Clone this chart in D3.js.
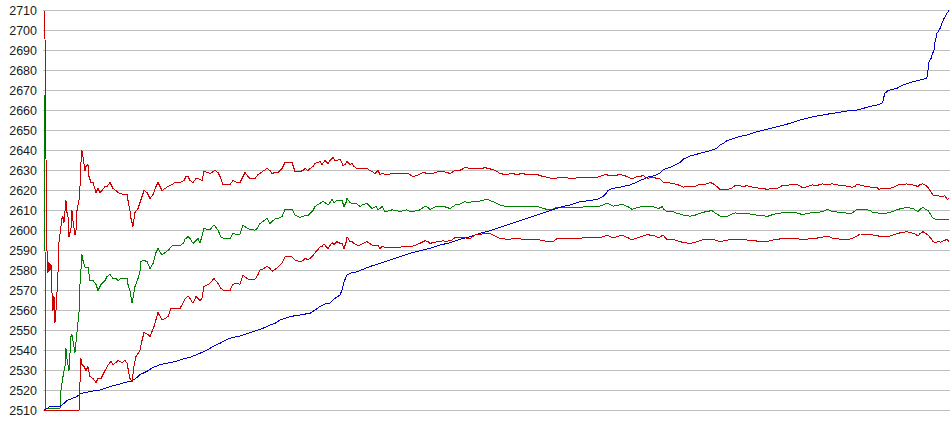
<!DOCTYPE html>
<html>
<head>
<meta charset="utf-8">
<script src="https://cdn.jsdelivr.net/npm/d3@7"></script>
<style>
  html, body { margin: 0; padding: 0; background: #fff; }
  svg { display: block; }
</style>
</head>
<body>
<svg id="chart" width="950" height="435"></svg>
<script>
// Tick labels (y axis)
const yTicks = [2510, 2520, 2530, 2540, 2550, 2560, 2570, 2580, 2590, 2600, 2610, 2620, 2630, 2640, 2650, 2660, 2670, 2680, 2690, 2700, 2710];

// Sample index range
const sampleRange = [0, 905];

// Upper band (red) [sample, value]
const upperBand = [[0,2710],[0.6,2696],[1,2696],[2,2636],[3,2590],[4,2579],[5,2584],[6,2580],[7,2583],[8,2569],[9,2560],[10,2567],[11,2554],[12,2560],[13,2569],[14,2579],[15,2594],[17,2602],[18,2606],[19,2607],[20,2604],[22,2615],[23,2609],[24,2607],[25,2597],[27,2601],[28,2610],[29,2605],[31,2598],[32,2600],[33,2610],[35,2615],[36,2622],[37,2634],[38,2640],[39,2637],[41,2630],[42,2632],[44,2633],[45,2627],[47,2624],[49,2624],[52,2619],[54,2621],[56,2619],[58,2620],[61,2622],[63,2622],[66,2624],[69,2621],[72,2620],[74,2619],[79,2618],[83,2618],[84,2615],[86,2610],[87,2606],[89,2602],[91,2609],[94,2611],[96,2614],[98,2617],[100,2620],[103,2619],[106,2616],[109,2618],[112,2622],[114,2624],[118,2620],[121,2621],[124,2622],[128,2623],[131,2624],[136,2624],[140,2625],[142,2627],[144,2627],[146,2625],[149,2624],[152,2626],[154,2626],[158,2625],[160,2629.5],[164,2629],[166,2628.5],[171,2630],[174,2629],[176,2627],[179,2623],[182,2623],[186,2623],[189,2625],[193,2624],[196,2624],[199,2627],[201,2629],[204,2627],[206,2626],[211,2626],[214,2628],[216,2628.5],[220,2630],[223,2631],[226,2630],[228,2628.5],[231,2629],[234,2629],[238,2631],[241,2634],[244,2634],[248,2634],[251,2629.5],[256,2629.5],[259,2630],[261,2631],[264,2630],[266,2631],[269,2632],[271,2633.6],[274,2634],[276,2634.5],[278,2633],[281,2635],[284,2633.5],[286,2635],[289,2636.6],[291,2635],[293,2635],[296,2635.7],[299,2632.5],[301,2633],[303,2634.5],[306,2633],[308,2633.5],[310,2632],[313,2631],[316,2631],[319,2631],[323,2631],[326,2630],[328,2629.5],[331,2628.5],[334,2630],[336,2628],[338,2628.5],[343,2627.7],[348,2628.5],[354,2628.5],[359,2628.5],[364,2628.5],[369,2627],[374,2627.7],[379,2629],[384,2628.5],[389,2628.5],[394,2629.5],[399,2629.5],[403,2629],[406,2628.5],[411,2630],[415,2630],[418,2630.5],[421,2631.6],[426,2631],[429,2631],[434,2631],[438,2631],[441,2631.5],[444,2631],[449,2630.5],[453,2629.5],[456,2628.5],[461,2628],[463,2628],[468,2628.5],[473,2628],[478,2628.5],[483,2628],[489,2628],[493,2628],[496,2627.5],[499,2627],[503,2626.7],[509,2625.8],[513,2626.3],[518,2626.3],[523,2626.3],[528,2626],[533,2626.3],[538,2626.3],[543,2626.7],[549,2626.3],[552,2626.5],[556,2627],[561,2628],[566,2627.5],[571,2627.5],[576,2628],[580,2627.5],[583,2627],[588,2625.8],[591,2626.5],[593,2627],[596,2627],[599,2627.5],[604,2625.8],[606,2626.5],[609,2626.7],[613,2626],[616,2625.8],[619,2624.2],[623,2624],[626,2623.7],[629,2623.5],[633,2623],[636,2622.5],[639,2621.7],[646,2622],[651,2622],[656,2623.2],[661,2623],[666,2624],[669,2623.5],[673,2622],[676,2620.6],[680,2620.6],[684,2620.6],[687,2621],[691,2622.4],[696,2622.4],[699,2622],[703,2622.4],[709,2621.6],[712,2621.5],[716,2621],[719,2621],[723,2620.6],[728,2621],[733,2621],[738,2622.4],[746,2622.8],[751,2622.8],[754,2622.8],[758,2621.6],[761,2621.5],[768,2622.8],[773,2622.5],[778,2623.3],[783,2623],[788,2623.3],[793,2622.8],[796,2622.5],[801,2622.4],[808,2621.6],[811,2622],[813,2623.3],[818,2622.4],[823,2622],[828,2621.6],[833,2621.5],[835,2620.6],[839,2621],[846,2621],[851,2622],[854,2622.8],[859,2623],[863,2623.3],[866,2622.8],[869,2622.8],[874,2622],[876,2623],[879,2623.3],[882,2622.5],[884,2621.6],[886,2620],[889,2617.75],[892,2617.3],[894,2617.3],[897,2617],[901,2617.3],[903,2615.6],[905,2616]];

// Middle line (green) [sample, value]
const middleLine = [[0,2669],[1,2590],[2,2511],[16,2511],[17,2520],[19,2527],[21,2532],[22,2541],[23,2536],[25,2530],[27,2547],[28,2548],[29,2545],[31,2539],[33,2549],[35,2559],[36,2573],[38,2588],[39,2585],[41,2581.6],[44,2581.6],[46,2575],[49,2575],[52,2573],[54,2570],[57,2573],[61,2575],[63,2577],[66,2578],[69,2576],[72,2576],[74,2575],[77,2576],[79,2576],[81,2576],[83,2576],[84,2573],[86,2569.6],[88,2564],[89,2566],[91,2572],[94,2576],[96,2579.6],[97,2584.6],[99,2585],[103,2584.6],[106,2581],[109,2583.5],[112,2589],[114,2591],[118,2587.7],[121,2589],[124,2590],[128,2592.3],[131,2592.5],[136,2592.3],[140,2594],[141,2595.6],[144,2597],[146,2596],[149,2593.6],[152,2595],[154,2596],[156,2593.6],[160,2601],[164,2600.5],[166,2600.5],[170,2602.7],[174,2600.3],[177,2596.6],[180,2596],[183,2596],[186,2596],[189,2598.5],[193,2598],[196,2598.2],[199,2602.7],[202,2601.5],[206,2600.5],[211,2600.2],[213,2601],[216,2603.5],[221,2605.25],[223,2606],[226,2603.5],[229,2605],[232,2606],[234,2606],[238,2607],[241,2610.6],[244,2610.6],[248,2610.6],[251,2607.7],[256,2606.6],[259,2607],[261,2607.7],[264,2607.5],[266,2608.5],[269,2610],[271,2612],[274,2613],[276,2613.6],[279,2614.75],[282,2613.6],[284,2612.75],[286,2614],[288,2615.6],[290,2614],[293,2615],[296,2615],[298,2615],[300,2612],[302,2614],[303,2616],[306,2614],[308,2613.6],[313,2613.3],[316,2612],[319,2613],[323,2613.6],[326,2612],[328,2611],[332,2612],[334,2610.3],[336,2611],[338,2612],[341,2609.4],[348,2610.3],[352,2610],[356,2609.4],[359,2610],[363,2610.3],[366,2609.5],[369,2609.4],[373,2610],[376,2610.3],[381,2612.2],[384,2611.5],[386,2610.6],[390,2611.5],[393,2612.2],[396,2612],[399,2612.2],[403,2611.5],[406,2611],[411,2612.7],[416,2613.2],[421,2614.4],[424,2614],[429,2614.4],[434,2614.5],[438,2615],[443,2615.6],[446,2615],[449,2614.4],[453,2613.5],[456,2612.7],[460,2612.2],[463,2611.9],[468,2612],[471,2611.9],[476,2612],[479,2612.2],[484,2612],[488,2612.2],[493,2612],[496,2611.6],[499,2611],[503,2610.6],[509,2610.6],[513,2611.6],[520,2611.6],[529,2611.6],[536,2611.6],[543,2611.9],[549,2612],[556,2612.2],[560,2613],[563,2613.6],[566,2613],[569,2612.2],[574,2612.5],[578,2613.2],[581,2612.5],[584,2611.9],[588,2610.6],[591,2611],[593,2611.6],[597,2611.8],[603,2612.2],[606,2612],[609,2611.9],[612,2611.5],[614,2611],[617,2611.5],[618,2612.2],[620,2610.5],[623,2609.4],[629,2609.4],[633,2608.5],[636,2608.25],[640,2607.5],[646,2607.2],[650,2607.5],[653,2608],[658,2609],[663,2609.5],[668,2610],[672,2608.5],[676,2607.25],[680,2607.25],[684,2607.25],[687,2608],[691,2608.8],[696,2608.6],[703,2608.4],[710,2608],[716,2607.25],[719,2607.5],[723,2607],[729,2608],[733,2608.5],[738,2608.8],[745,2608.8],[753,2608.8],[758,2608],[761,2608.2],[768,2609],[773,2609],[778,2609.4],[781,2610],[784,2610.6],[786,2610],[789,2609.4],[794,2609.2],[799,2609],[806,2608.4],[809,2609],[813,2610.6],[817,2610.6],[821,2610.6],[826,2610],[829,2609],[833,2609],[836,2608.4],[841,2608.5],[846,2609],[851,2610],[854,2610.6],[858,2611],[863,2611.6],[866,2611.2],[869,2611],[872,2610],[874,2609.4],[876,2610.5],[879,2611.6],[882,2610.5],[884,2610],[886,2608.5],[889,2606.1],[892,2605.5],[896,2605.25],[900,2605.5],[903,2605.25],[905,2605.3]];

// Lower band (red) [sample, value]
const lowerBand = [[0,2510],[35,2510],[36,2524],[37,2536],[38,2533],[40,2532],[42,2530],[44,2532],[46,2527],[49,2526],[52,2524],[54,2526],[57,2526],[59,2528],[61,2530],[64,2532.75],[67,2534.5],[69,2533],[71,2533.6],[74,2535],[76,2534.5],[78,2534],[81,2535],[83,2533.6],[84,2531],[86,2526],[88,2524.4],[90,2532],[92,2537],[96,2540],[98,2545],[100,2549],[104,2548],[106,2547],[110,2552],[114,2559],[118,2555.25],[121,2556],[124,2557],[127,2561],[131,2561],[136,2561],[141,2565.6],[144,2567.25],[146,2566],[149,2563.6],[152,2567],[154,2566],[156,2565],[158,2566],[160,2572],[164,2573],[166,2573.6],[170,2576],[174,2573.5],[177,2571],[179,2570.25],[183,2570],[186,2570],[189,2573.2],[193,2573.4],[196,2573.2],[199,2577.75],[203,2576],[206,2575.3],[211,2575.6],[214,2578],[216,2580.25],[220,2581],[223,2582.25],[226,2581],[228,2579.6],[231,2580.5],[234,2581.6],[238,2583.6],[241,2586.9],[244,2587],[248,2586.9],[251,2585.25],[256,2584.4],[259,2585],[261,2586],[264,2585.5],[266,2586],[269,2587.5],[271,2588.9],[274,2590.5],[276,2591.9],[278,2592],[280,2593.2],[282,2592],[284,2591],[286,2592.5],[288,2593.9],[290,2593],[293,2594.4],[296,2593.6],[298,2593.6],[300,2591],[302,2594],[303,2596.9],[306,2594.5],[308,2594.4],[310,2593.5],[313,2592.75],[316,2592.75],[319,2593.5],[323,2594.4],[326,2593.5],[328,2592.75],[334,2592.75],[336,2591],[338,2592],[341,2591.6],[348,2591.6],[356,2591.6],[361,2592.25],[366,2592],[369,2592.25],[373,2593],[376,2593.6],[381,2594.9],[384,2594.5],[386,2593.6],[390,2594],[393,2594.4],[396,2594.5],[399,2594.9],[403,2594.4],[406,2595.25],[408,2595.25],[411,2596.4],[416,2596.5],[419,2596.7],[422,2596.2],[426,2595.9],[431,2597.75],[435,2598],[438,2598.25],[443,2598.6],[446,2598.5],[449,2597.75],[453,2596.8],[456,2596],[460,2595.8],[463,2595.6],[468,2595.8],[471,2596],[476,2595.8],[479,2595.6],[484,2595.7],[488,2595.6],[493,2595.5],[496,2595.25],[499,2595],[503,2594.4],[509,2594.4],[513,2596],[520,2596],[529,2596],[536,2596.2],[543,2596.4],[549,2596.3],[556,2596.4],[560,2597],[563,2597.75],[566,2597],[569,2596.4],[574,2597],[578,2597.75],[581,2597],[584,2596.4],[588,2595.25],[591,2596],[596,2596.7],[600,2597.5],[604,2598],[607,2597.5],[609,2597.75],[612,2597],[614,2596.4],[617,2597],[619,2597.75],[621,2596.5],[623,2595.6],[629,2595.6],[633,2595],[636,2594.4],[640,2594],[646,2593.5],[650,2594],[653,2594.4],[658,2595.25],[663,2595.5],[668,2595.75],[672,2595],[676,2594.4],[680,2594.8],[684,2595.25],[687,2595.5],[691,2595.75],[696,2595.5],[703,2595.25],[710,2595],[716,2594.4],[723,2594.4],[729,2595.25],[733,2595.5],[738,2596],[745,2596],[753,2596],[758,2595.25],[761,2595.5],[768,2596],[773,2596.2],[778,2596.6],[781,2597],[784,2597.25],[786,2596.8],[789,2596],[794,2595.8],[799,2595.5],[803,2595.25],[808,2596],[812,2597],[816,2598.25],[820,2598.2],[825,2598],[829,2597.75],[833,2597.5],[836,2597],[841,2597],[846,2597.25],[851,2598],[854,2598.6],[858,2599],[863,2599.4],[866,2599],[869,2598.6],[872,2598],[874,2597.25],[876,2598.5],[879,2599.4],[882,2598.5],[884,2597.75],[887,2596],[889,2594.5],[891,2594],[894,2594.4],[897,2594.2],[900,2595],[903,2595.5],[905,2594.4]];

// Sorted values (blue) [sample, value]
const sortedLine = [[0,2510],[1,2510.5],[3,2511],[6,2512],[16,2512],[20,2513.5],[23,2515],[28,2516],[33,2517],[37,2518.6],[42,2519],[46,2519.5],[56,2520.25],[61,2521],[66,2522],[71,2522.6],[76,2523.25],[81,2524],[86,2524.6],[90,2525.5],[93,2526.5],[96,2528],[99,2528.6],[103,2529.6],[106,2530.6],[109,2531.5],[113,2532.25],[116,2533],[126,2533.9],[131,2534.5],[136,2535.25],[141,2536],[146,2536.6],[151,2537.6],[156,2538.6],[161,2539.8],[166,2541.1],[171,2542.5],[176,2543.6],[181,2545],[186,2546.1],[191,2546.8],[196,2547.25],[201,2548],[206,2548.9],[211,2549.7],[216,2550.6],[221,2551.5],[226,2552.75],[231,2553.6],[236,2555.25],[241,2556],[246,2556.9],[251,2557.4],[256,2557.75],[261,2558.2],[266,2558.6],[271,2560.25],[276,2562],[281,2563.25],[286,2563.6],[289,2565.25],[292,2566.5],[296,2567.75],[298,2570.25],[300,2574.4],[303,2577.75],[306,2578.6],[313,2579.4],[319,2580.6],[326,2582],[331,2582.8],[336,2583.6],[341,2584.4],[346,2585.25],[351,2586],[356,2586.9],[361,2587.8],[366,2588.6],[371,2589.3],[376,2589.9],[381,2590.5],[386,2591.1],[391,2591.9],[396,2592.75],[401,2593.3],[406,2593.9],[411,2594.8],[416,2595.6],[421,2596.2],[426,2596.9],[431,2597.8],[436,2598.6],[441,2599.2],[446,2599.9],[451,2600.8],[456,2601.6],[461,2602.4],[466,2603.25],[471,2604],[476,2604.9],[481,2605.8],[486,2606.6],[491,2607.4],[496,2608.25],[501,2609],[506,2609.9],[511,2610.8],[516,2611.6],[521,2612.2],[526,2612.75],[531,2613.6],[536,2614.4],[541,2614.7],[546,2615],[550,2615.3],[553,2615.6],[556,2616.2],[559,2617],[562,2618.5],[564,2620],[569,2621.1],[576,2621.6],[581,2622.2],[586,2622.75],[591,2623.8],[596,2625],[600,2625.8],[603,2626.6],[609,2627.25],[613,2628],[616,2628.6],[620,2630.6],[626,2631.6],[633,2633.25],[636,2634],[639,2635.6],[646,2637.25],[651,2637.9],[656,2638.6],[661,2639.3],[666,2639.9],[673,2641.1],[676,2642.75],[680,2643.8],[683,2644.9],[688,2645.8],[693,2646.6],[698,2647.2],[703,2647.75],[708,2648.6],[713,2649.4],[718,2650],[723,2650.6],[729,2651.4],[736,2652.25],[741,2652.9],[746,2653.6],[751,2654.4],[756,2655.25],[762,2656],[769,2656.9],[774,2657.3],[779,2657.75],[784,2658.2],[789,2658.6],[796,2659.2],[803,2659.75],[808,2660],[813,2660.25],[818,2660.9],[823,2661.6],[828,2662.2],[833,2662.75],[838,2663.6],[839,2664.5],[840,2667],[841,2668.6],[844,2670],[848,2670.5],[853,2671.1],[856,2672],[859,2672.75],[864,2673.6],[869,2674.4],[874,2675],[879,2675.6],[882,2676.1],[883,2676.6],[884,2680],[885,2684.4],[887,2686],[888,2687.75],[890,2690.25],[891,2694],[893,2698.6],[896,2701],[898,2703.6],[900,2706],[903,2708.6],[905,2710]];

const svg = d3.select("#chart");
const W = 950;
const plotLeft = 44, plotRight = 949, plotTop = 10.5, plotBottom = 410.5;

const x = d3.scaleLinear().domain(sampleRange).range([plotLeft, plotRight]);
const y = d3.scaleLinear().domain([2510, 2710]).range([plotBottom, plotTop]);

// gridlines
svg.append("g")
  .selectAll("line")
  .data(yTicks)
  .join("line")
  .attr("x1", plotLeft - 1)
  .attr("x2", W)
  .attr("y1", d => y(d))
  .attr("y2", d => y(d))
  .attr("stroke", "#c0c0c0")
  .attr("stroke-width", 1)
  .attr("shape-rendering", "crispEdges");

// y axis labels
const yAxis = d3.axisLeft(y).tickValues(yTicks).tickSize(0).tickPadding(7).tickFormat(d3.format("d"));
const ag = svg.append("g").attr("transform", `translate(${plotLeft},0)`).call(yAxis);
ag.select(".domain").remove();
ag.selectAll("text")
  .attr("font-family", "Liberation Sans, Arial, sans-serif")
  .attr("font-size", 12.5)
  .attr("fill", "#1a1a1a");

const line = d3.line().x(d => x(d[0])).y(d => y(d[1]));

const series = [
  { data: middleLine, color: "#008000" },
  { data: sortedLine, color: "#0000cc" },
  { data: lowerBand, color: "#cc0000" },
  { data: upperBand, color: "#cc0000" }
];

svg.append("g")
  .selectAll("path")
  .data(series)
  .join("path")
  .attr("d", d => line(d.data))
  .attr("fill", "none")
  .attr("stroke", d => d.color)
  .attr("stroke-width", 1)
  .attr("shape-rendering", "crispEdges");
</script>
</body>
</html>
